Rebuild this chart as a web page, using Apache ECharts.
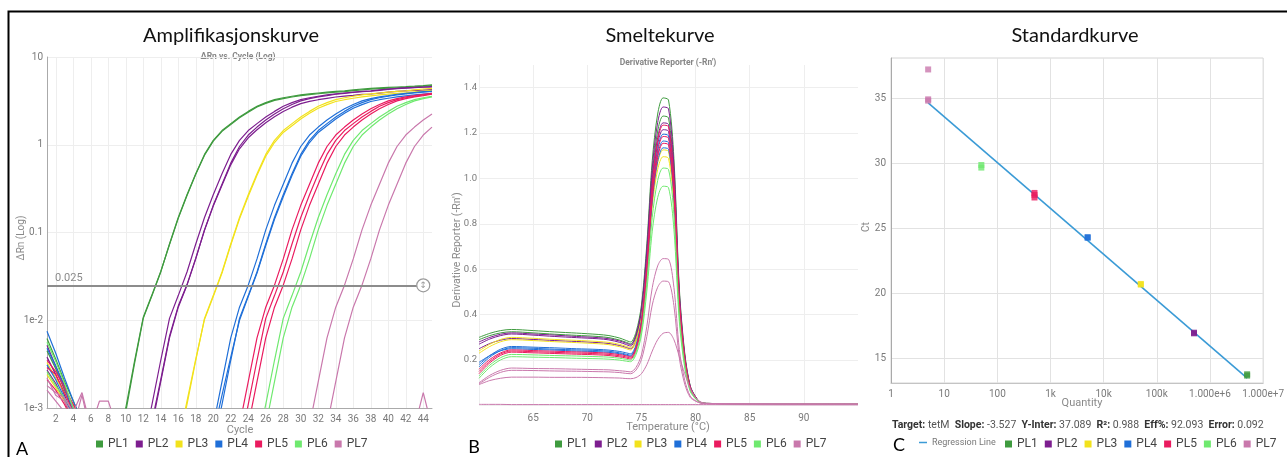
<!DOCTYPE html>
<html>
<head>
<meta charset="utf-8">
<title>qPCR tetM</title>
<script src="https://cdn.jsdelivr.net/npm/echarts@6/dist/echarts.min.js"></script>
<style>
  html, body { margin: 0; padding: 0; background: #fff; }
  #chart { width: 1287px; height: 457px; }
</style>
</head>
<body>
<div id="chart"></div>
<script>
const _ = null;

// ---- samples ----
const sampleNames = ['PL1', 'PL2', 'PL3', 'PL4', 'PL5', 'PL6', 'PL7'];
const sampleColors = ['#3f9b3f', '#7d1e8f', '#f2e21c', '#1f6fd8', '#ea1b5f', '#6fe96f', '#c978ac'];

// ---- amplification (ΔRn per cycle, one array per well) ----
const cycles = [1,2,3,4,5,6,7,8,9,10,11,12,13,14,15,16,17,18,19,20,21,22,23,24,25,26,27,28,29,30,31,32,33,34,35,36,37,38,39,40,41,42,43,44,45];
const ampYLabels = ['1e-3', '1e-2', '0.1', '1', '10'];
const threshold = 0.025;

const ampPL1 = [
  [0.0045,0.0028,0.0016,0.0009,_,_,_,_,0.00036,0.0009,0.0032,0.0105,0.0191,0.0355,0.074,0.148,0.269,0.468,0.776,1.12,1.45,1.74,2.07,2.40,2.75,3.02,3.27,3.43,3.57,3.70,3.80,3.89,3.98,4.06,4.12,4.22,4.32,4.40,4.45,4.50,4.55,4.60,4.66,4.73,4.82],
  [0.0062,0.0036,0.002,0.0012,0.0007,_,_,_,0.0004,0.0010,0.0034,0.0108,0.0195,0.036,0.073,0.145,0.264,0.46,0.76,1.10,1.42,1.70,2.03,2.35,2.70,2.96,3.20,3.36,3.50,3.63,3.72,3.81,3.90,3.98,4.04,4.14,4.23,4.31,4.36,4.41,4.46,4.51,4.57,4.64,4.72]
];
const ampPL2 = [
  [0.0038,0.0024,0.0014,0.0008,_,_,_,_,_,_,_,0.00036,0.0011,0.0035,0.0105,0.0191,0.0355,0.074,0.148,0.269,0.468,0.776,1.12,1.45,1.74,2.07,2.40,2.75,3.02,3.27,3.43,3.57,3.70,3.80,3.89,3.98,4.06,4.12,4.22,4.32,4.40,4.45,4.50,4.55,4.60],
  [0.0027,0.0019,0.0012,0.0007,_,_,_,_,_,_,_,_,0.00063,0.0020,0.0063,0.0141,0.0251,0.050,0.107,0.204,0.355,0.617,0.955,1.29,1.59,1.91,2.24,2.57,2.88,3.16,3.35,3.51,3.63,3.76,3.85,3.94,4.03,4.07,4.17,4.27,4.37,4.42,4.47,4.52,4.57],
  [0.0052,0.003,0.0018,0.001,0.0006,_,_,_,_,_,_,_,0.0007,0.0021,0.0066,0.0145,0.0255,0.051,0.106,0.200,0.345,0.59,0.90,1.20,1.48,1.78,2.08,2.39,2.68,2.94,3.12,3.26,3.38,3.50,3.58,3.66,3.75,3.79,3.88,3.97,4.06,4.11,4.16,4.20,4.25]
];
const ampPL3 = [
  [0.0033,0.0022,0.0015,0.0011,0.0007,_,_,_,_,_,_,_,_,_,_,0.00036,0.0011,0.0035,0.0105,0.0191,0.0355,0.074,0.148,0.269,0.468,0.776,1.12,1.45,1.74,2.07,2.40,2.75,3.02,3.27,3.43,3.57,3.70,3.80,3.89,3.98,4.06,4.12,4.22,4.32,4.40],
  [0.0024,0.0017,0.0012,0.0008,_,_,_,_,_,_,_,_,_,_,_,0.0004,0.0012,0.0036,0.0102,0.0186,0.0345,0.072,0.143,0.258,0.448,0.74,1.06,1.38,1.65,1.97,2.28,2.61,2.87,3.11,3.26,3.39,3.52,3.61,3.70,3.78,3.86,3.91,4.01,4.10,4.18]
];
const ampPL4 = [
  [0.0075,0.0042,0.0022,0.0012,0.0007,_,_,_,_,_,_,_,_,_,_,_,_,_,_,0.00063,0.0020,0.0063,0.0141,0.0251,0.050,0.107,0.204,0.355,0.617,0.955,1.29,1.59,1.91,2.24,2.57,2.88,3.16,3.35,3.51,3.63,3.76,3.85,3.94,4.03,4.07],
  [0.0048,0.003,0.0017,0.0009,_,_,_,_,_,_,_,_,_,_,_,_,_,_,_,0.00036,0.0011,0.0035,0.0105,0.0191,0.0355,0.074,0.148,0.269,0.468,0.776,1.12,1.45,1.74,2.07,2.40,2.75,3.02,3.27,3.43,3.57,3.70,3.80,3.89,3.98,4.06],
  [0.0031,0.0021,0.0013,0.0008,_,_,_,_,_,_,_,_,_,_,_,_,_,_,_,0.0005,0.0014,0.0038,0.0100,0.0186,0.0345,0.071,0.141,0.256,0.445,0.74,1.06,1.38,1.65,1.97,2.28,2.61,2.87,3.11,3.26,3.39,3.52,3.61,3.70,3.78,3.86]
];
const ampPL5 = [
  [0.0035,0.0026,0.0017,0.0011,0.0007,_,_,_,_,_,_,_,_,_,_,_,_,_,_,_,_,_,0.00063,0.0020,0.0063,0.0141,0.0251,0.050,0.107,0.204,0.355,0.617,0.955,1.29,1.59,1.91,2.24,2.57,2.88,3.16,3.35,3.51,3.63,3.76,3.85],
  [0.0029,0.0024,0.0015,0.0009,_,_,_,_,_,_,_,_,_,_,_,_,_,_,_,_,_,_,0.00036,0.0011,0.0035,0.0105,0.0191,0.0355,0.074,0.148,0.269,0.468,0.776,1.12,1.45,1.74,2.07,2.40,2.75,3.02,3.27,3.43,3.57,3.70,3.80],
  [0.0021,0.0016,0.0011,0.0007,_,_,_,_,_,_,_,_,_,_,_,_,_,_,_,_,_,_,_,0.00063,0.0020,0.0063,0.0141,0.0251,0.050,0.107,0.204,0.355,0.617,0.955,1.29,1.59,1.91,2.24,2.57,2.88,3.16,3.35,3.51,3.63,3.76]
];
const ampPL6 = [
  [0.0056,0.0034,0.0019,0.001,0.0006,_,_,_,_,_,_,_,_,_,_,_,_,_,_,_,_,_,_,_,0.00036,0.0011,0.0035,0.0105,0.0191,0.0355,0.074,0.148,0.269,0.468,0.776,1.12,1.45,1.74,2.07,2.40,2.75,3.02,3.27,3.43,3.57],
  [0.0026,0.0018,0.0013,0.0009,0.0006,_,_,_,_,_,_,_,_,_,_,_,_,_,_,_,_,_,_,_,_,0.00063,0.0020,0.0063,0.0141,0.0251,0.050,0.107,0.204,0.355,0.617,0.955,1.29,1.59,1.91,2.24,2.57,2.88,3.16,3.35,3.51]
];
const ampPL7 = [
  [0.0018,0.0015,0.0013,0.0009,0.0015,0.0006,0.0012,0.0012,0.0006,_,_,_,_,_,_,_,_,_,_,_,_,_,_,_,_,_,_,_,_,_,0.00063,0.0020,0.0063,0.0141,0.0251,0.050,0.107,0.204,0.355,0.617,0.955,1.29,1.59,1.91,2.24],
  [0.0022,0.0014,0.0012,0.0008,_,_,_,_,_,_,_,_,_,_,_,_,_,_,_,_,_,_,_,_,_,_,_,_,_,_,_,_,0.00063,0.0020,0.0063,0.0141,0.0251,0.050,0.107,0.204,0.355,0.617,0.955,1.29,1.59],
  [0.0016,0.0012,0.0009,0.0006,0.0014,0.0005,_,_,_,_,_,_,_,_,_,_,_,_,_,_,_,_,_,_,_,_,_,_,_,_,_,_,_,_,_,_,_,_,_,_,_,_,0.0006,0.0015,0.0006]
];

// ---- melt curve (derivative reporter per temperature, one array per well) ----
const meltTemps = [60,61,62,63,65,67,69,71,72,73,73.5,74,74.5,75,75.5,76,76.5,77,77.5,78,78.5,79,79.5,80,80.5,81,88,95];
const meltPL1 = [
  [.300,.318,.330,.335,.330,.324,.319,.313,.308,.297,.288,.280,.323,.442,.712,1.079,1.284,1.355,1.346,1.088,.517,.231,.088,.039,.012,.009,.008,.007],
  [.290,.308,.320,.325,.320,.314,.309,.304,.299,.288,.280,.272,.312,.423,.675,1.018,1.209,1.275,1.267,1.024,.486,.218,.083,.037,.012,.009,.008,.007]
];
const meltPL2 = [
  [.280,.300,.314,.320,.315,.310,.304,.299,.294,.284,.276,.268,.310,.426,.689,1.046,1.246,1.315,1.307,1.056,.502,.224,.086,.038,.012,.009,.008,.007],
  [.270,.293,.308,.315,.310,.304,.299,.294,.289,.278,.270,.262,.302,.410,.657,.993,1.181,1.245,1.238,1.000,.475,.213,.081,.036,.012,.009,.008,.007],
  [.250,.273,.288,.295,.291,.286,.282,.277,.273,.264,.257,.250,.289,.396,.638,.968,1.152,1.215,1.208,.976,.464,.207,.079,.036,.012,.009,.008,.007]
];
const meltPL3 = [
  [.240,.270,.291,.300,.296,.291,.287,.282,.278,.269,.262,.255,.290,.386,.605,.903,1.069,1.126,1.119,.904,.429,.192,.073,.033,.012,.009,.008,.007],
  [.230,.260,.281,.290,.286,.281,.277,.272,.268,.259,.252,.245,.279,.373,.587,.878,1.040,1.096,1.089,.880,.418,.187,.072,.033,.012,.009,.008,.007]
];
const meltPL4 = [
  [.180,.220,.248,.260,.257,.254,.250,.247,.244,.238,.233,.228,.267,.374,.617,.947,1.132,1.195,1.188,.960,.456,.204,.078,.035,.012,.009,.008,.007],
  [.170,.213,.242,.255,.252,.248,.245,.242,.239,.232,.227,.222,.260,.364,.601,.924,1.104,1.165,1.158,.936,.445,.199,.076,.034,.012,.009,.008,.007],
  [.190,.220,.241,.250,.247,.244,.240,.237,.234,.228,.223,.218,.255,.356,.587,.900,1.075,1.135,1.129,.912,.433,.194,.074,.034,.012,.009,.008,.007]
];
const meltPL5 = [
  [.160,.203,.232,.245,.242,.239,.236,.233,.230,.224,.220,.215,.256,.369,.625,.974,1.168,1.235,1.228,.992,.471,.211,.081,.036,.012,.009,.008,.007],
  [.150,.195,.227,.240,.237,.234,.231,.228,.225,.219,.215,.210,.249,.357,.602,.935,1.121,1.185,1.178,.952,.452,.202,.077,.035,.012,.009,.008,.007],
  [.140,.188,.221,.235,.232,.229,.226,.223,.220,.214,.210,.205,.243,.348,.587,.912,1.093,1.155,1.148,.928,.441,.197,.075,.034,.012,.009,.008,.007]
];
const meltPL6 = [
  [.130,.178,.211,.225,.223,.220,.218,.215,.213,.208,.204,.200,.234,.328,.540,.829,.991,1.046,1.040,.840,.399,.179,.068,.031,.012,.009,.008,.007],
  [.120,.168,.201,.215,.213,.211,.208,.206,.204,.200,.196,.193,.224,.310,.504,.768,.916,.966,.960,.776,.369,.165,.063,.029,.012,.009,.008,.007]
];
const meltPL7 = [
  [.100,.133,.155,.165,.163,.162,.160,.158,.157,.153,.151,.148,.168,.223,.349,.519,.615,.647,.644,.520,.247,.111,.042,.021,.010,.008,.007,.007],
  [.095,.125,.146,.155,.154,.152,.151,.149,.148,.145,.142,.140,.156,.202,.304,.443,.521,.548,.545,.440,.209,.094,.036,.019,.010,.008,.007,.007],
  [.092,.110,.120,.125,.125,.124,.124,.123,.122,.121,.119,.118,.123,.140,.180,.240,.290,.318,.322,.290,.215,.140,.075,.035,.015,.009,.007,.006],
  [.005,.005,.005,.004,.004,.004,.004,.004,.004,.004,.004,.004,.004,.004,.004,.004,.004,.004,.004,.004,.004,.004,.004,.004,.004,.004,.003,.003]
];

// ---- standard curve ----
const stdQuantity = [5e6, 5e5, 5e4, 5e3, 500, 50, 5];
const stdCtPL1 = [13.65, 13.75];
const stdCtPL2 = [16.9, 16.95];
const stdCtPL3 = [20.65, 20.7];
const stdCtPL4 = [24.25, 24.3];
const stdCtPL5 = [27.35, 27.55, 27.7];
const stdCtPL6 = [29.65, 29.85];
const stdCtPL7 = [34.8, 34.9, 37.2];
const stdXLabels = ['1', '10', '100', '1k', '10k', '100k', '1.000e+6', '1.000e+7'];
const stdTarget = 'tetM';
const stdSlope = -3.527;
const stdIntercept = 37.089;
const stdR2 = 0.988;
const stdEff = 92.093;
const stdError = 0.092;

const ampSets = [ampPL1, ampPL2, ampPL3, ampPL4, ampPL5, ampPL6, ampPL7];
const meltSets = [meltPL1, meltPL2, meltPL3, meltPL4, meltPL5, meltPL6, meltPL7];
const stdCtSets = [stdCtPL1, stdCtPL2, stdCtPL3, stdCtPL4, stdCtPL5, stdCtPL6, stdCtPL7];

// ---- styling ----
const UI_FONT = 'Roboto, "Noto Sans", sans-serif';
const TITLE_FONT = 'Lato, "Open Sans", sans-serif';
const tickColor = '#7a7a7a';
const gridColor = '#eeeeee';
const evenCycle = (i, v) => Number(v) % 2 === 0;

const series = [];

// amplification plot
sampleNames.forEach((name, i) => {
  ampSets[i].forEach(values => {
    series.push({
      type: 'line', name, xAxisIndex: 0, yAxisIndex: 0,
      data: values, showSymbol: false, symbol: 'none', silent: true,
      connectNulls: false, clip: true,
      lineStyle: { color: sampleColors[i], width: 1.2 },
      itemStyle: { color: sampleColors[i] }
    });
  });
});

// threshold line with its handle
series.push({
  type: 'line', name: 'threshold', xAxisIndex: 0, yAxisIndex: 0,
  data: [], silent: true,
  markLine: {
    silent: true, symbol: ['none', 'none'], animation: false,
    lineStyle: { color: '#8c8c8c', width: 2, type: 'solid' },
    label: { show: true, position: 'insideStartTop', formatter: String(threshold),
             color: '#8a8a8a', fontSize: 11, fontFamily: UI_FONT, distance: 2, padding: [0, 0, 0, 6] },
    data: [[{ coord: [0, threshold] }, { coord: [cycles.length - 2, threshold] }]]
  },
  markPoint: {
    silent: true, animation: false, symbol: 'circle', symbolSize: 13,
    itemStyle: { color: '#ffffff', borderColor: '#9a9a9a', borderWidth: 1.2 },
    label: { show: true, position: 'inside', formatter: '↕', color: '#9a9a9a', fontSize: 9, fontFamily: 'DejaVu Sans' },
    data: [{ coord: [cycles.length - 2, threshold] }]
  }
});

// melt curves
sampleNames.forEach((name, i) => {
  meltSets[i].forEach(values => {
    series.push({
      type: 'line', name, xAxisIndex: 1, yAxisIndex: 1,
      data: meltTemps.map((t, k) => [t, values[k]]),
      showSymbol: false, symbol: 'none', silent: true, smooth: 0.3, clip: true,
      lineStyle: { color: sampleColors[i], width: 1 },
      itemStyle: { color: sampleColors[i] }
    });
  });
});

// regression line from the stated slope and intercept
const qMin = Math.min(...stdQuantity);
const qMax = Math.max(...stdQuantity);
series.push({
  type: 'line', name: 'Regression Line', xAxisIndex: 2, yAxisIndex: 2,
  data: [qMin, qMax].map(q => [q, stdIntercept + stdSlope * Math.log10(q)]),
  showSymbol: false, symbol: 'none', silent: true, z: 2,
  lineStyle: { color: '#3b9bd6', width: 1.6 },
  itemStyle: { color: '#3b9bd6' }
});

// standard points
sampleNames.forEach((name, i) => {
  series.push({
    type: 'scatter', name, xAxisIndex: 2, yAxisIndex: 2, z: 3,
    data: stdCtSets[i].map(ct => [stdQuantity[i], ct]),
    symbol: 'rect', symbolSize: 6, silent: true,
    itemStyle: { color: sampleColors[i] }
  });
});

// ---- static texts ----
const txt = (x, y, text, o = {}) => ({
  type: 'text', x, y, rotation: o.rotation || 0, silent: true,
  style: {
    text, fill: o.fill || '#8a8a8a', fontSize: o.size || 11, fontFamily: o.family || UI_FONT,
    fontWeight: o.weight || 'normal',
    align: o.align || 'center', verticalAlign: 'middle',
    textAlign: o.align || 'center', textVerticalAlign: 'middle',
    rich: o.rich
  }
});

const statsText =
  `{b|Target:} ${stdTarget}  {b|Slope:} ${stdSlope.toFixed(3)}  {b|Y-Inter:} ${stdIntercept.toFixed(3)}  ` +
  `{b|R²:} ${stdR2.toFixed(3)}  {b|Eff%:} ${stdEff.toFixed(3)}  {b|Error:} ${stdError.toFixed(3)}`;

const graphic = [
  { type: 'rect', silent: true, shape: { x: 8.5, y: 11.5, width: 1400, height: 600 },
    style: { fill: 'none', stroke: '#000', lineWidth: 2 } },
  txt(231, 36, 'Amplifikasjonskurve', { size: 20, family: TITLE_FONT, fill: '#111' }),
  txt(660, 36, 'Smeltekurve', { size: 20, family: TITLE_FONT, fill: '#111' }),
  txt(1075, 36, 'Standardkurve', { size: 20, family: TITLE_FONT, fill: '#111' }),
  txt(238, 57, 'ΔRn vs. Cycle (Log)', { size: 8.5, weight: 'bold', fill: '#868686' }),
  txt(668, 63, "Derivative Reporter (-Rn')", { size: 8.5, weight: 'bold', fill: '#868686' }),
  txt(21, 238, 'ΔRn (Log)', { rotation: Math.PI / 2, size: 10 }),
  txt(240, 430, 'Cycle', { size: 11 }),
  txt(457, 250, "Derivative Reporter (-Rn')", { rotation: Math.PI / 2, size: 10.5 }),
  txt(668, 427, 'Temperature (°C)', { size: 11 }),
  txt(866, 227, 'Ct', { rotation: Math.PI / 2, size: 10 }),
  txt(1082, 403, 'Quantity', { size: 11 }),
  txt(892, 425, statsText, { align: 'left', size: 10.5, fill: '#555',
    rich: { b: { fontWeight: 'bold', fill: '#333', color: '#333', fontSize: 10.5, fontFamily: UI_FONT } } }),
  txt(22, 449, 'A', { size: 18, family: TITLE_FONT, fill: '#000' }),
  txt(474, 447, 'B', { size: 18, family: TITLE_FONT, fill: '#000' }),
  txt(899, 445, 'C', { size: 18, family: TITLE_FONT, fill: '#000' })
];

const legendBase = {
  icon: 'rect', itemWidth: 7, itemHeight: 7, itemGap: 7, selectedMode: false,
  textStyle: { fontFamily: UI_FONT, fontSize: 12, color: '#444' }, padding: 0
};

const option = {
  animation: false,
  textStyle: { fontFamily: UI_FONT },
  grid: [
    { left: 47, top: 57, width: 385, height: 351 },
    { left: 479, top: 65, width: 379, height: 340.5 },
    { left: 891, top: 58, width: 381, height: 325, show: true, borderColor: '#d4d4d4', borderWidth: 1 }
  ],
  xAxis: [
    { type: 'category', gridIndex: 0, data: cycles, boundaryGap: false,
      axisLine: { show: true, lineStyle: { color: '#aaa' } }, axisTick: { show: false },
      axisLabel: { interval: evenCycle, color: tickColor, fontSize: 10, margin: 6 },
      splitLine: { show: true, interval: evenCycle, lineStyle: { color: gridColor } } },
    { type: 'value', gridIndex: 1, min: 60, max: 95, interval: 5,
      axisLine: { show: false }, axisTick: { show: false },
      axisLabel: { showMinLabel: false, showMaxLabel: false, color: tickColor, fontSize: 10, margin: 8 },
      splitLine: { show: true, showMaxLine: false, lineStyle: { color: gridColor } } },
    { type: 'log', logBase: 10, gridIndex: 2, min: 1, max: 1e7,
      axisLine: { show: true, lineStyle: { color: '#c4c4c4' } }, axisTick: { show: false },
      axisLabel: { formatter: v => stdXLabels[Math.round(Math.log10(v))], color: tickColor, fontSize: 10, margin: 6 },
      splitLine: { show: true, lineStyle: { color: '#e2e2e2' } } }
  ],
  yAxis: [
    { type: 'log', logBase: 10, gridIndex: 0, min: 0.001, max: 10,
      axisLine: { show: true, lineStyle: { color: '#aaa' } }, axisTick: { show: false },
      axisLabel: { formatter: v => ampYLabels[Math.round(Math.log10(v)) + 3], color: tickColor, fontSize: 10, margin: 4 },
      splitLine: { show: true, lineStyle: { color: gridColor } } },
    { type: 'value', gridIndex: 1, min: 0, max: 1.5, interval: 0.2,
      axisLine: { show: false }, axisTick: { show: false },
      axisLabel: { formatter: v => v.toFixed(1), showMinLabel: false, showMaxLabel: false, color: tickColor, fontSize: 9.5, margin: 2 },
      splitLine: { show: true, showMaxLine: false, lineStyle: { color: gridColor } } },
    { type: 'value', gridIndex: 2, min: 13.08, max: 38.08,
      axisLine: { show: true, lineStyle: { color: '#aaa' } }, axisTick: { show: false },
      axisLabel: { showMinLabel: false, showMaxLabel: false, color: tickColor, fontSize: 10, margin: 5 },
      splitLine: { show: true, showMinLine: false, showMaxLine: false, lineStyle: { color: '#e2e2e2' } } }
  ],
  legend: [
    Object.assign({}, legendBase, { left: 96, top: 438, data: sampleNames }),
    Object.assign({}, legendBase, { left: 555, top: 438, data: sampleNames }),
    Object.assign({}, legendBase, { left: 919, top: 438, itemWidth: 8, itemHeight: 1.5,
      textStyle: { fontFamily: UI_FONT, fontSize: 9, color: '#777' }, data: ['Regression Line'] }),
    Object.assign({}, legendBase, { left: 1005, top: 438, data: sampleNames })
  ],
  graphic,
  series
};

const chart = echarts.init(document.getElementById('chart'), null, { renderer: 'canvas' });
chart.setOption(option);
</script>
</body>
</html>
